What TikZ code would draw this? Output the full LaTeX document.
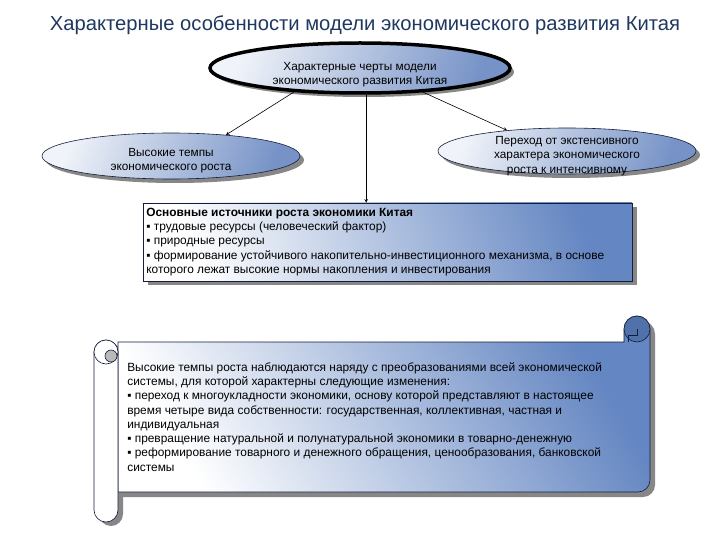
\documentclass[tikz,border=0pt]{standalone}
\usepackage{fontspec}
\setmainfont{Liberation Sans}
\usetikzlibrary{shapes.geometric,shadows}
\definecolor{titleblue}{RGB}{31,56,96}
\definecolor{navy}{RGB}{20,30,60}
\definecolor{ovalblue}{RGB}{118,146,198}
\definecolor{ovallight}{RGB}{240,243,249}
\definecolor{boxblue}{RGB}{100,134,194}
\definecolor{curlblue}{RGB}{80,113,170}
\definecolor{shadowgray}{RGB}{135,135,135}

\begin{document}
\begin{tikzpicture}[x=1pt,y=-1pt,semithick,>=stealth,
  oval/.style={ellipse, draw=navy, inner sep=0pt, minimum width=258pt, minimum height=46pt,
    top color=ovalblue, bottom color=ovallight, shading angle=-110,
    drop shadow={shadow xshift=4pt,shadow yshift=-4pt,fill=shadowgray,opacity=1}},
  txt/.style={font=\fontsize{11.8}{14.3}\selectfont, align=center, yshift=-5pt},
  body/.style={font=\fontsize{11.9}{14.3}\selectfont, align=left, inner sep=0pt}]
  \useasboundingbox[fill=white] (0,0) rectangle (720,540);

  \node[font=\fontsize{20.2}{24}\selectfont, text=titleblue] (title) at (365,25)
    {Характерные особенности модели экономического развития Китая};

  \node[oval, draw=black, line width=3.5pt, minimum width=300pt, minimum height=50pt,
    label={[txt, yshift=-2pt]center:Характерные черты модели\\экономического развития Китая}] (top) at (360,68) {};
  \node[oval, label={[txt]center:Высокие темпы\\экономического роста}] (rate) at (171,156) {};
  \node[oval, label={[txt]center:Переход от экстенсивного\\характера экономического\\роста к интенсивному}] (shift) at (567,151) {};

  \node[draw=navy, minimum width=489pt, minimum height=78pt, top color=boxblue, bottom color=white,
    shading angle=-70, drop shadow={shadow xshift=5pt,shadow yshift=-4pt,fill=shadowgray,opacity=1}] (src) at (387.5,242) {};
  \node[body, anchor=west] (srctxt) at (146,242) {\textbf{Основные источники роста экономики Китая}\\
    ▪ трудовые ресурсы (человеческий фактор)\\
    ▪ природные ресурсы\\
    ▪ формирование устойчивого накопительно-инвестиционного механизма, в основе\\
    которого лежат высокие нормы накопления и инвестирования};

  \path (top.200) edge[->] (rate.21);
  \path (top.339) edge[->] (shift.161);
  \path (top.283.5) edge[->] (top.283.5 |- src.north);

  \fill[shadowgray, shift={(5,5)}] (118,342) -- (624,342) -- (624,329) arc[start angle=180,end angle=360,radius=13]
    -- (650,480) arc[start angle=0,end angle=90,radius=12] -- (118,492) -- cycle;
  \fill[shadowgray, shift={(5,4)}] (118,352) -- (118,510) arc[start angle=0,end angle=180,radius=12]
    -- (94,352) arc[start angle=180,end angle=360,radius=12] -- cycle;
  \draw[navy, top color=boxblue, bottom color=white, shading angle=-60] (118,342) -- (624,342) -- (624,329)
    arc[start angle=180,end angle=360,radius=13] -- (650,480) arc[start angle=0,end angle=90,radius=12]
    -- (118,492) -- cycle;
  \draw[navy, fill=curlblue] (637,329) circle[radius=13];
  \draw[navy] (628,342) -- (628,335) -- (637,335) -- (637,329);
  \draw[navy, fill=white] (118,352) -- (118,510) arc[start angle=0,end angle=180,radius=12]
    -- (94,352) arc[start angle=180,end angle=360,radius=12] -- cycle;
  \draw[navy, fill=white] (106,352) circle[radius=12];
  \draw[navy, fill=gray!55] (111,356) circle[radius=6];

  \node[body, anchor=north west] (scroll) at (127,362) {Высокие темпы роста наблюдаются наряду с преобразованиями всей экономической\\
    системы, для которой характерны следующие изменения:\\
    ▪ переход к многоукладности экономики, основу которой представляют в настоящее\\
    время четыре вида собственности: государственная, коллективная, частная и\\
    индивидуальная\\
    ▪ превращение натуральной и полунатуральной экономики в товарно-денежную\\
    ▪ реформирование товарного и денежного обращения, ценообразования, банковской\\
    системы};
\end{tikzpicture}
\end{document}
